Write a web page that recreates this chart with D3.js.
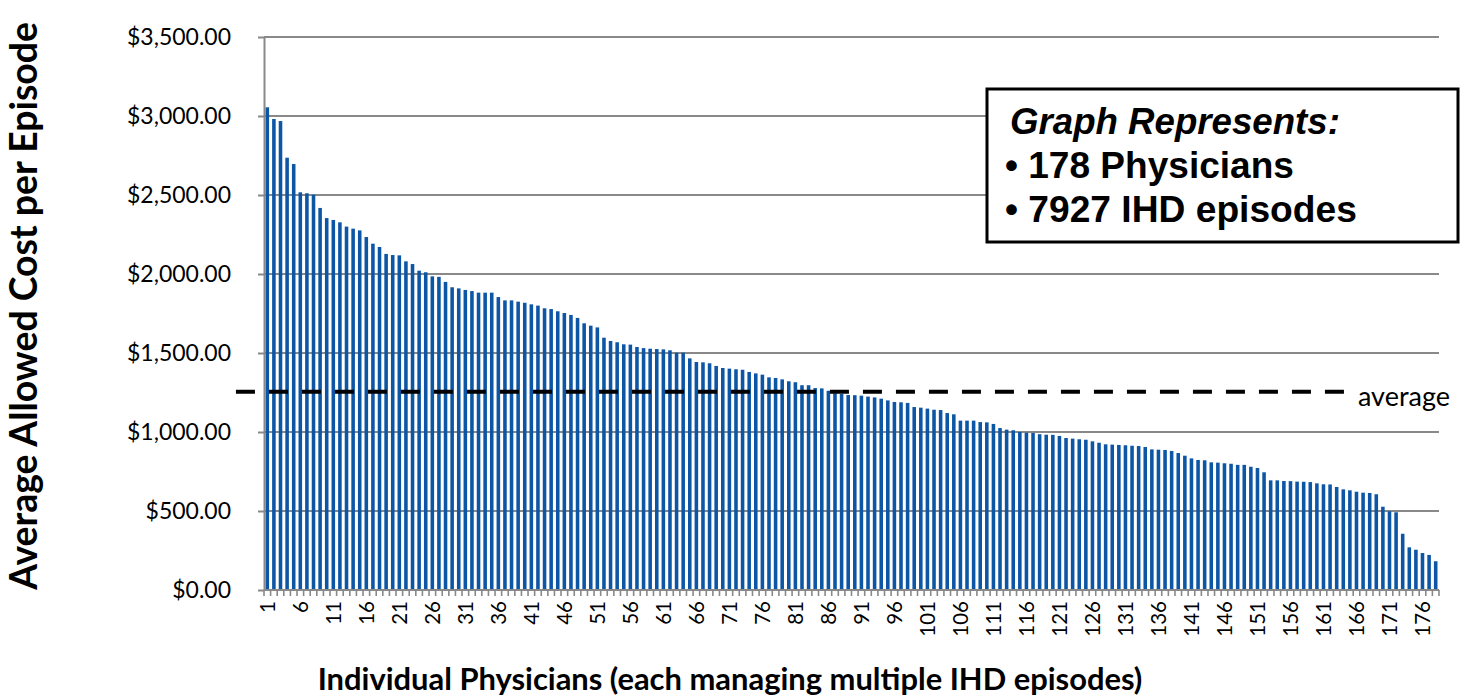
<!DOCTYPE html>
<html><head><meta charset="utf-8">
<script src="https://cdn.jsdelivr.net/npm/d3@7"></script>
<style>
html,body{margin:0;padding:0;background:#fff;}
svg{display:block;}
</style></head>
<body><svg id="chart" width="1461" height="699"></svg>
<script>
const physicianCount = 178;
const categories = d3.range(1, physicianCount + 1);
const costs = [
 3055,2981,2968,2736,2696,2517,2511,2502,2418,2354,
 2342,2327,2300,2287,2276,2234,2192,2171,2127,2120,
 2118,2080,2063,2021,2011,1985,1982,1950,1916,1909,
 1899,1892,1882,1882,1882,1854,1833,1833,1825,1818,
 1808,1800,1783,1778,1764,1753,1741,1722,1688,1673,
 1662,1597,1576,1568,1555,1553,1538,1531,1527,1525,
 1523,1517,1502,1502,1466,1443,1441,1435,1418,1405,
 1401,1397,1394,1380,1371,1363,1346,1342,1333,1321,
 1315,1296,1296,1278,1276,1261,1246,1241,1234,1233,
 1230,1224,1219,1211,1200,1190,1188,1184,1158,1154,
 1148,1141,1139,1120,1112,1072,1072,1072,1063,1061,
 1051,1025,1015,1011,1000,996,994,986,983,982,
 975,962,958,954,951,941,932,922,920,918,
 916,913,911,905,890,888,886,880,867,850,
 833,823,821,808,806,802,799,792,792,780,
 772,745,694,694,690,689,686,685,683,675,
 669,668,652,637,631,622,616,614,606,527,
 498,492,356,270,255,234,222,182
];
const xTickLabels = [1,6,11,16,21,26,31,36,41,46,51,56,61,66,71,76,81,86,91,96,101,106,111,116,121,126,131,136,141,146,151,156,161,166,171,176];
const yTicks = [0,500,1000,1500,2000,2500,3000,3500];
const averageCost = 1255;
const averageSpan = [-4.25, 163.6]; // in category units
const averageLabel = "average";
const boxLines = ["Graph Represents:", "\u2022 178 Physicians", "\u2022 7927 IHD episodes"];
const yTitle = "Average Allowed Cost per Episode";
const xTitle = "Individual Physicians (each managing multiple IHD episodes)";

const svg = d3.select("#chart");
const plot = {left:264, right:1439, top:37, bottom:590};
const gridColor = "#898989";

const x = d3.scaleBand().domain(categories).range([plot.left, plot.right]).padding(0);
const xLin = d3.scaleLinear().domain([0, physicianCount]).range([plot.left, plot.right]);
const y = d3.scaleLinear().domain([0, 3500]).range([plot.bottom, plot.top]);

function fit(sel, target) {
  const w = sel.node().getComputedTextLength();
  const fs = parseFloat(sel.attr("font-size"));
  if (w > 0) sel.attr("font-size", fs * target / w);
  return sel;
}

// gridlines
svg.append("g").selectAll("line").data(yTicks.filter(d => d > 0)).join("line")
  .attr("x1", plot.left).attr("x2", plot.right)
  .attr("y1", d => y(d)).attr("y2", d => y(d))
  .attr("stroke", gridColor).attr("stroke-width", 2);

// bars
const bw = x.bandwidth() * 0.54;
svg.append("g").selectAll("rect").data(costs).join("rect")
  .attr("x", (d, i) => x(categories[i]) + (x.bandwidth() - bw) / 2)
  .attr("width", bw)
  .attr("y", d => y(d))
  .attr("height", d => y(0) - y(d))
  .attr("fill", "#0d56a6");

// y axis
const yAxis = svg.append("g").attr("transform", `translate(${plot.left},0)`)
  .call(d3.axisLeft(y).tickValues(yTicks).tickFormat(d3.format("$,.2f")).tickSize(6).tickSizeOuter(0).tickPadding(27));
yAxis.select(".domain").attr("stroke", gridColor).attr("stroke-width", 2);
yAxis.selectAll(".tick line").attr("stroke", gridColor).attr("stroke-width", 2);
yAxis.selectAll(".tick text").attr("font-family", "Lato").attr("font-size", 20).attr("fill", "#000");
{
  const t = yAxis.selectAll(".tick text").filter(d => d === 3500);
  const w = t.node().getComputedTextLength();
  yAxis.selectAll(".tick text").attr("font-size", 20 * 104 / w);
}

// x axis line + boundary ticks
const bounds = categories.map(c => x(c)).concat([plot.right]);
svg.append("g").selectAll("line").data(bounds).join("line")
  .attr("x1", d => d).attr("x2", d => d)
  .attr("y1", plot.bottom).attr("y2", plot.bottom + 6)
  .attr("stroke", gridColor).attr("stroke-width", 1.6);
svg.append("line")
  .attr("x1", plot.left).attr("x2", plot.right)
  .attr("y1", plot.bottom).attr("y2", plot.bottom)
  .attr("stroke", gridColor).attr("stroke-width", 2);

// x tick labels
const xAxis = svg.append("g").attr("transform", `translate(0,${plot.bottom})`)
  .call(d3.axisBottom(x).tickValues(xTickLabels).tickSize(0).tickSizeOuter(0));
xAxis.select(".domain").remove();
xAxis.selectAll(".tick text")
  .attr("font-family", "Lato").attr("font-size", 20.5).attr("fill", "#000")
  .attr("transform", "rotate(-90)")
  .attr("text-anchor", "end")
  .attr("x", -11).attr("y", 0).attr("dy", "0.36em");

// average dashed line
svg.append("path")
  .datum(averageSpan.map(v => [v, averageCost]))
  .attr("d", d3.line().x(d => xLin(d[0])).y(d => y(d[1])))
  .attr("stroke", "#000").attr("stroke-width", 4)
  .attr("stroke-dasharray", "19,14").attr("fill", "none");
const avgT = svg.append("text")
  .attr("x", 1358).attr("y", y(averageCost) + 14)
  .attr("font-family", "Lato").attr("font-size", 22).attr("fill", "#000")
  .text(averageLabel);
fit(avgT, 92);

// text box
svg.append("rect").attr("x", 987).attr("y", 89).attr("width", 471).attr("height", 153)
  .attr("fill", "#fff").attr("stroke", "#000").attr("stroke-width", 3);
const boxX = [1010, 1005, 1005];
const boxY = [134, 178, 222];
const boxW = [330, 289, 352];
boxLines.forEach((s, i) => {
  const t = svg.append("text")
    .attr("x", boxX[i]).attr("y", boxY[i])
    .attr("font-family", "Liberation Sans, Arial").attr("font-weight", "bold")
    .attr("font-style", i === 0 ? "italic" : "normal")
    .attr("font-size", 34).attr("fill", "#000").text(s);
  fit(t, boxW[i]);
});

// axis titles
const yt = svg.append("text")
  .attr("transform", "translate(37,306) rotate(-90)")
  .attr("text-anchor", "middle")
  .attr("font-family", "Lato").attr("font-weight", "bold").attr("font-size", 30)
  .attr("fill", "#000").text(yTitle);
fit(yt, 568);
const xt = svg.append("text")
  .attr("x", 730).attr("y", 690)
  .attr("text-anchor", "middle")
  .attr("font-family", "Lato").attr("font-weight", "bold").attr("font-size", 26)
  .attr("fill", "#000").text(xTitle);
fit(xt, 825);
</script>
</body></html>
